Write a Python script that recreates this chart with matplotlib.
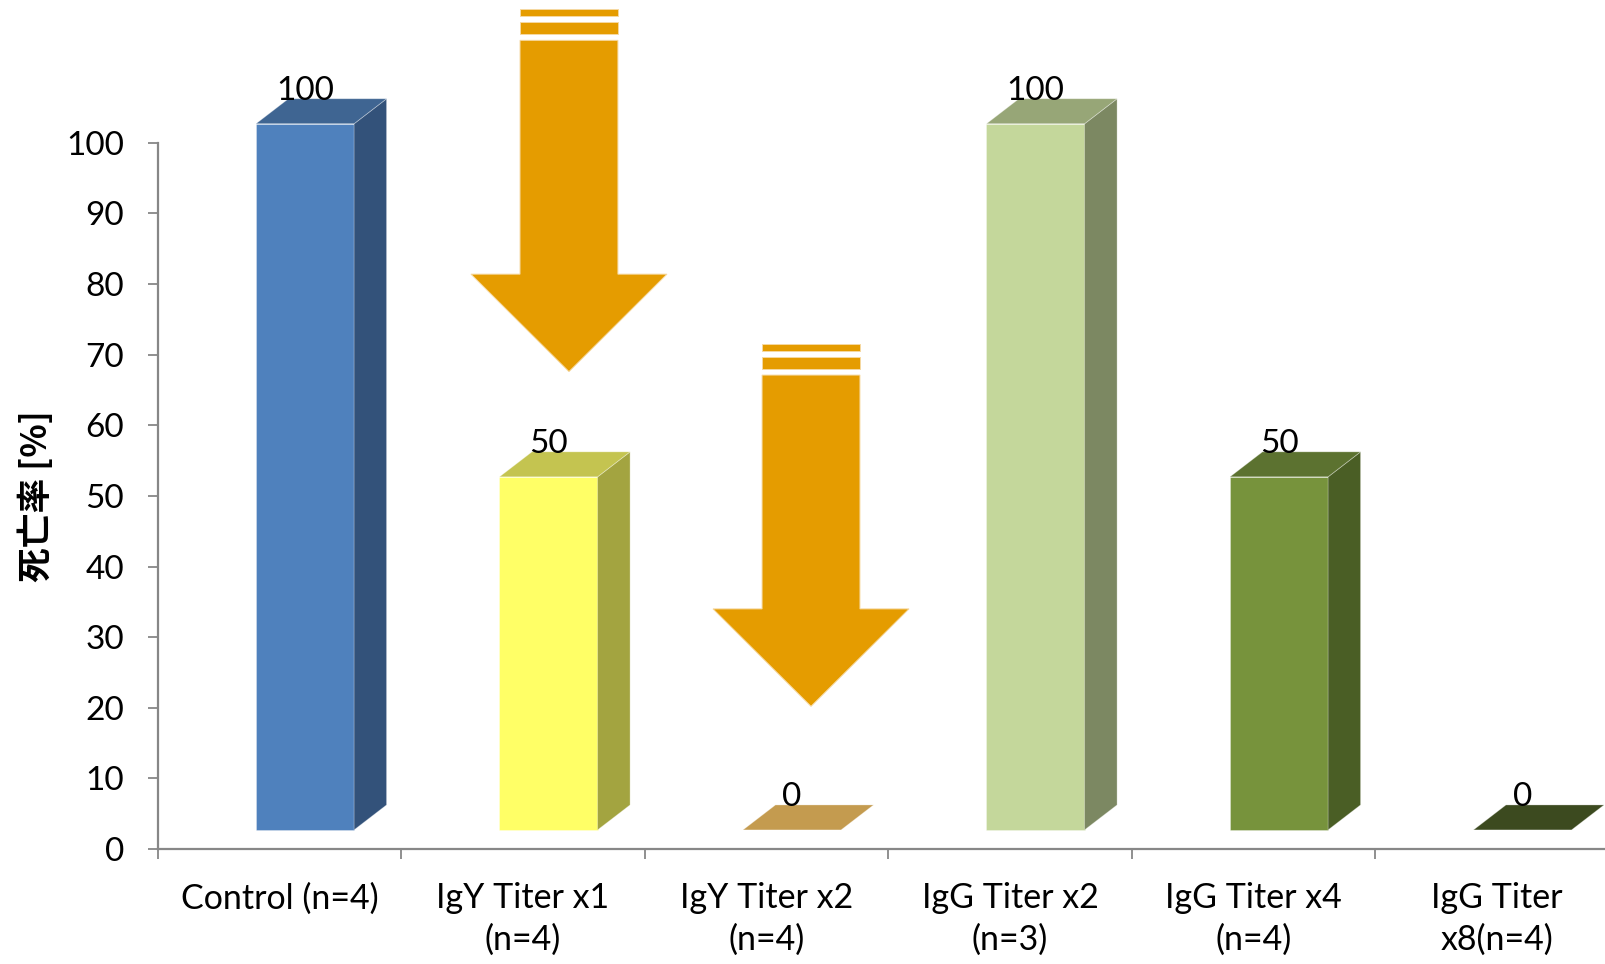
import matplotlib
matplotlib.use("Agg")
import matplotlib.pyplot as plt
from matplotlib.patches import Polygon

# ---- data -------------------------------------------------------------
categories = ["Control (n=4)", "IgY Titer x1\n(n=4)", "IgY Titer x2\n(n=4)",
              "IgG Titer x2\n(n=3)", "IgG Titer x4\n(n=4)", "IgG Titer\nx8(n=4)"]
mortality = [100, 50, 0, 100, 50, 0]
value_labels = ["100", "50", "0", "100", "50", "0"]
y_ticks = [0, 10, 20, 30, 40, 50, 60, 70, 80, 90, 100]
y_label = "死亡率 [%]"

# face colours per bar: front, top, side
front_colors = ["#4F81BD", "#FFFF66", "#F2C46E", "#C4D79B", "#77933C", "#56692C"]
top_colors = ["#3F6592", "#C4C450", "#C49B4F", "#97A677", "#5C7230", "#3C4A1F"]
side_colors = ["#33527A", "#A3A440", "#9B7A3E", "#7C8862", "#4A5E25", "#303C18"]
arrow_color = "#E59C00"

plt.rcParams["font.family"] = ["Lato", "DejaVu Sans"]

W, H = 1606, 964
fig = plt.figure(figsize=(W / 100, H / 100), dpi=100)
fig.patch.set_facecolor("white")

# axes extends beyond the right edge of the figure
left_px, bottom_px = 157.7, 849.0
cell_px, unit_px = 243.5, 7.062
ymax = 120
ax = fig.add_axes([left_px / W, (H - bottom_px) / H,
                   len(categories) * cell_px / W, ymax * unit_px / H])
ax.set_xlim(-0.5, len(categories) - 0.5)
ax.set_ylim(0, ymax)

# ---- 3-D style columns --------------------------------------------------
bar_w = 0.403      # front-face width (category units)
bar_off = 0.105    # front face shifted right of the category centre
depth_x = 0.1335   # oblique depth, x
depth_y = 3.54     # oblique depth, y
lift = 2.7         # front face raised above the floor

for i, v in enumerate(mortality):
    x0 = i + bar_off - bar_w / 2
    x1 = x0 + bar_w
    y0 = lift
    y1 = v + lift
    edge = dict(edgecolor=(1, 1, 1, 0.35), linewidth=0.6, clip_on=False)
    if v > 0:
        ax.add_patch(Polygon([(x0, y0), (x1, y0), (x1, y1), (x0, y1)],
                             closed=True, facecolor=front_colors[i], zorder=3, **edge))
        ax.add_patch(Polygon([(x1, y0), (x1 + depth_x, y0 + depth_y),
                              (x1 + depth_x, y1 + depth_y), (x1, y1)],
                             closed=True, facecolor=side_colors[i], zorder=3, **edge))
    ax.add_patch(Polygon([(x0, y1), (x1, y1), (x1 + depth_x, y1 + depth_y),
                          (x0 + depth_x, y1 + depth_y)],
                         closed=True, facecolor=top_colors[i], zorder=3, **edge))
    ax.text(i + bar_off, v + 7.4, value_labels[i], ha="center", va="center",
            fontsize=24, color="black", zorder=5, clip_on=False)


# ---- decorative down arrows --------------------------------------------
def down_arrow(xc, ytop):
    hs, hh = 0.201, 0.4025
    stripes = [(0.0, 0.95), (1.80, 3.54)]
    shaft_top = ytop - 4.39
    head_top = ytop - 37.5
    tip = ytop - 51.3
    kw = dict(closed=True, facecolor=arrow_color, edgecolor="#F6D9A2",
              linewidth=0.7, zorder=4, clip_on=False)
    for a, b in stripes:
        ax.add_patch(Polygon([(xc - hs, ytop - a), (xc + hs, ytop - a),
                              (xc + hs, ytop - b), (xc - hs, ytop - b)], **kw))
    ax.add_patch(Polygon([(xc - hs, shaft_top), (xc + hs, shaft_top),
                          (xc + hs, head_top), (xc + hh, head_top),
                          (xc, tip), (xc - hh, head_top),
                          (xc - hs, head_top)], **kw))


down_arrow(1.189, 118.9)
down_arrow(2.183, 71.5)

# ---- axes styling ------------------------------------------------------
axis_gray = "#878787"
for s in ["top", "right"]:
    ax.spines[s].set_visible(False)
for s in ["left", "bottom"]:
    ax.spines[s].set_color(axis_gray)
    ax.spines[s].set_linewidth(1.6)
ax.spines["left"].set_bounds(0, 100)

ax.set_yticks(y_ticks)
ax.set_yticklabels([str(t) for t in y_ticks])
ax.tick_params(axis="y", direction="out", length=7.2, width=1.3,
               color=axis_gray, pad=17, labelsize=24)

ax.set_xticks([i - 0.5 for i in range(len(categories) + 1)])
ax.set_xticklabels([])
ax.set_xticks(range(len(categories)), minor=True)
ax.set_xticklabels(categories, minor=True, fontsize=24.5, linespacing=1.36)
ax.tick_params(axis="x", which="major", direction="out", length=7.2,
               width=1.3, color=axis_gray)
ax.tick_params(axis="x", which="minor", length=0, pad=24)

ax.set_ylabel(y_label, family=["Noto Sans CJK JP", "DejaVu Sans"],
              fontsize=25, fontweight="bold", va="center")
ax.yaxis.set_label_coords((36 - left_px) / (len(categories) * cell_px), 50 / ymax)

fig.savefig("out.png", dpi=100, facecolor="white")
